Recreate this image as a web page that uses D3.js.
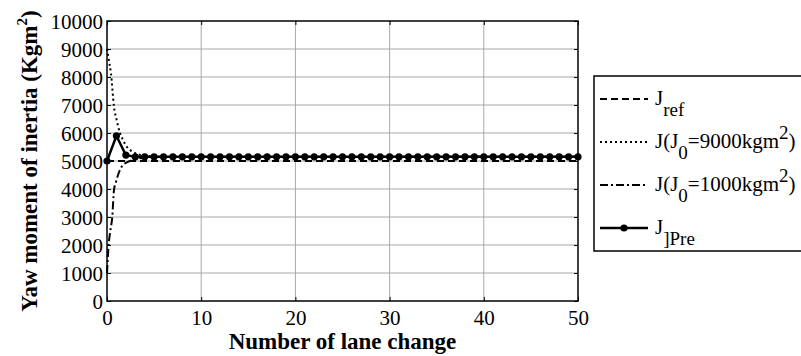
<!DOCTYPE html>
<html><head><meta charset="utf-8">
<script src="https://cdn.jsdelivr.net/npm/d3@7/dist/d3.min.js"></script>
<style>body{margin:0;background:#fff}svg{display:block}</style>
</head><body><svg id="c" width="801" height="356"></svg>
<script>
const xTicks = [0,10,20,30,40,50];
const yTicks = [0,1000,2000,3000,4000,5000,6000,7000,8000,9000,10000];
const refX = [0,50];
const refY = [5000,5000];
const j9000X = [0,0.2,0.42,0.74,1,1.38,1.7,2.1,2.5,3,3.5,4,5,6,50];
const j9000Y = [9000,8600,8130,6940,6500,6000,5750,5510,5380,5280,5220,5185,5160,5150,5150];
const j1000X = [0,0.05,0.16,0.35,0.56,0.74,0.95,1.17,1.4,1.7,2.1,2.5,3,3.5,4,5,50];
const j1000Y = [1000,1300,1940,2500,3010,3960,4250,4500,4700,4860,4950,5010,5060,5100,5120,5140,5150];
const preX = [0,1,2,3,4,5,6,7,8,9,10,11,12,13,14,15,16,17,18,19,20,21,22,23,24,25,26,27,28,29,30,31,32,33,34,35,36,37,38,39,40,41,42,43,44,45,46,47,48,49,50];
const preY = [5000,5900,5210,5150,5150,5150,5150,5150,5150,5150,5150,5150,5150,5150,5150,5150,5150,5150,5150,5150,5150,5150,5150,5150,5150,5150,5150,5150,5150,5150,5150,5150,5150,5150,5150,5150,5150,5150,5150,5150,5150,5150,5150,5150,5150,5150,5150,5150,5150,5150,5150];

const FONT = '"Liberation Serif","Times New Roman",serif';
const svg = d3.select("#c");
const L=107, R=578, T=21, B=301;
const x = d3.scaleLinear().domain([0,50]).range([L,R]);
const y = d3.scaleLinear().domain([0,10000]).range([B,T]);

const g = svg.append("g");
g.selectAll(".gx").data(xTicks.slice(1,-1)).join("line")
 .attr("x1",d=>x(d)).attr("x2",d=>x(d)).attr("y1",T).attr("y2",B)
 .attr("stroke","#a8a8a8").attr("stroke-width",1);
g.selectAll(".gy").data(yTicks.slice(1,-1)).join("line")
 .attr("y1",d=>y(d)).attr("y2",d=>y(d)).attr("x1",L).attr("x2",R)
 .attr("stroke","#a8a8a8").attr("stroke-width",1);

const fmt = d3.format("d");
const ax = d3.axisBottom(x).tickValues(xTicks).tickFormat(fmt).tickSizeInner(-4).tickSizeOuter(0).tickPadding(9);
const ay = d3.axisLeft(y).tickValues(yTicks).tickFormat(fmt).tickSizeInner(-4).tickSizeOuter(0).tickPadding(4);
const ax2 = d3.axisTop(x).tickValues(xTicks).tickSizeInner(-4).tickSizeOuter(0).tickFormat("");
const ay2 = d3.axisRight(y).tickValues(yTicks).tickSizeInner(-4).tickSizeOuter(0).tickFormat("");
const axG = svg.append("g").attr("transform",`translate(0,${B})`).call(ax);
const ayG = svg.append("g").attr("transform",`translate(${L},0)`).call(ay);
svg.append("g").attr("transform",`translate(0,${T})`).call(ax2);
svg.append("g").attr("transform",`translate(${R},0)`).call(ay2);
svg.selectAll(".domain").remove();
svg.selectAll(".tick line").attr("stroke","#000");
axG.attr("font-family",null).attr("font-size",null);
ayG.attr("font-family",null).attr("font-size",null);
axG.selectAll("text").style("font-family",FONT).style("font-size","21px").attr("dy","0.71em").attr("fill","#000");
ayG.selectAll("text").style("font-family",FONT).style("font-size","21px").attr("dy","0.35em").attr("fill","#000");
svg.append("rect").attr("x",L).attr("y",T).attr("width",R-L).attr("height",B-T)
 .attr("fill","none").attr("stroke","#000").attr("stroke-width",1.5);

const line = d3.line().x(d=>x(d[0])).y(d=>y(d[1]));
const lineC = d3.line().x(d=>x(d[0])).y(d=>y(d[1])).curve(d3.curveMonotoneX);
const zip = (a,b)=>a.map((v,i)=>[v,b[i]]);

svg.append("path").datum(zip(refX,refY)).attr("d",line).attr("fill","none")
 .attr("stroke","#000").attr("stroke-width",2).attr("stroke-dasharray","7,4");
svg.append("path").datum(zip(j9000X,j9000Y)).attr("d",lineC).attr("fill","none")
 .attr("stroke","#000").attr("stroke-width",2).attr("stroke-dasharray","2,3");
svg.append("path").datum(zip(j1000X,j1000Y)).attr("d",lineC).attr("fill","none")
 .attr("stroke","#000").attr("stroke-width",2).attr("stroke-dasharray","8,3,2,3");
svg.append("path").datum(zip(preX,preY)).attr("d",line).attr("fill","none")
 .attr("stroke","#000").attr("stroke-width",2.5);
svg.selectAll(".mk").data(zip(preX,preY)).join("circle")
 .attr("cx",d=>x(d[0])).attr("cy",d=>y(d[1])).attr("r",3.6).attr("fill","#000");

svg.append("text").attr("x",(L+R)/2).attr("y",349).attr("text-anchor","middle")
 .style("font-family",FONT).style("font-size","23px").style("font-weight","bold").text("Number of lane change");
const yt = svg.append("text").attr("transform","translate(37,161) rotate(-90)").attr("text-anchor","middle")
 .style("font-family",FONT).style("font-size","23px").style("font-weight","bold");
yt.append("tspan").text("Yaw moment of inertia (Kgm");
yt.append("tspan").style("font-size","15px").attr("dy",-10).text("2");
yt.append("tspan").attr("dy",10).text(")");

svg.append("rect").attr("x",594).attr("y",76).attr("width",215).attr("height",175)
 .attr("fill","#fff").attr("stroke","#000").attr("stroke-width",1.5);
const leg = [
 {dash:"7,4", y:99, label:[["J",0],["ref",1]]},
 {dash:"2,3", y:142, label:[["J(J",0],["0",1],["=9000kgm",0],["2",-1],[")",0]]},
 {dash:"8,3,2,3", y:185, label:[["J(J",0],["0",1],["=1000kgm",0],["2",-1],[")",0]]},
 {dash:null, y:228, label:[["J",0],["]Pre",1]]}
];
leg.forEach(e=>{
  const l = svg.append("line").attr("x1",600).attr("x2",648).attr("y1",e.y).attr("y2",e.y)
   .attr("stroke","#000").attr("stroke-width",e.dash?2:2.5);
  if(e.dash) l.attr("stroke-dasharray",e.dash);
  else svg.append("circle").attr("cx",624).attr("cy",e.y).attr("r",3.6).attr("fill","#000");
  const t = svg.append("text").attr("x",655).attr("y",e.y+6).style("font-family",FONT).style("font-size","21px");
  let cur=0;
  e.label.forEach(([s,k])=>{
    const target = k===1?11:(k===-1?-9:0);
    const ts = t.append("tspan").text(s).attr("dy",target-cur);
    if(k!==0) ts.style("font-size","19px");
    cur=target;
  });
});
</script></body></html>
